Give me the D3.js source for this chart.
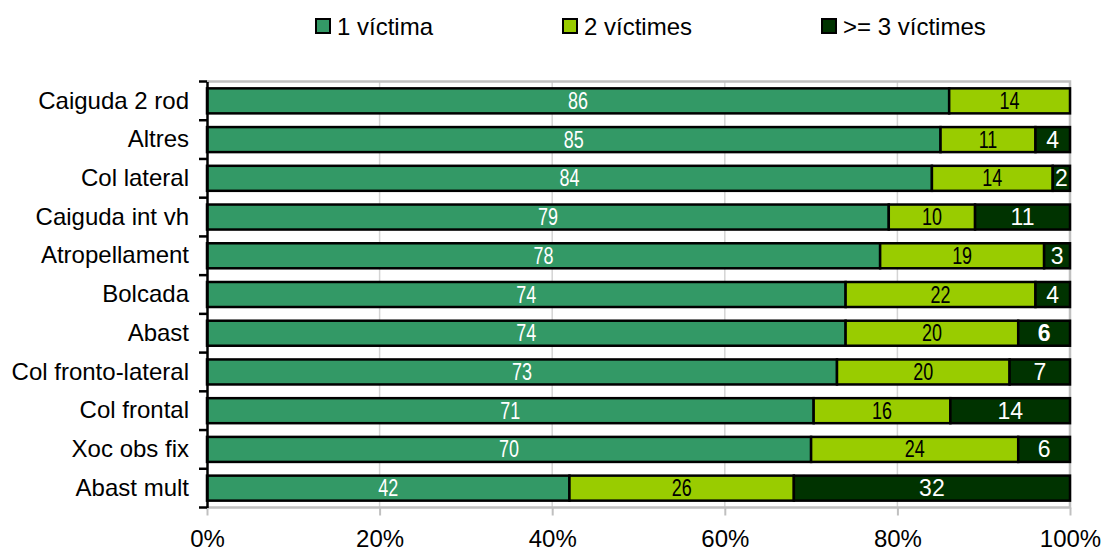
<!DOCTYPE html>
<html>
<head>
<meta charset="utf-8">
<script src="https://cdn.jsdelivr.net/npm/d3@7"></script>
<style>
  body { margin: 0; background: #fff; }
  text { font-family: "Liberation Sans", Arial, sans-serif; }
</style>
</head>
<body>
<div id="chart"></div>
<script>
var width = 1101;
var height = 551;

// data (percent of accidents by number of victims)
var categories = ['Caiguda 2 rod', 'Altres', 'Col lateral', 'Caiguda int vh', 'Atropellament',
                  'Bolcada', 'Abast', 'Col fronto-lateral', 'Col frontal', 'Xoc obs fix', 'Abast mult'];
var seriesNames = ['1 víctima', '2 víctimes', '>= 3 víctimes'];
var oneVictim   = [86, 85, 84, 79, 78, 74, 74, 73, 71, 70, 42];
var twoVictims  = [14, 11, 14, 10, 19, 22, 20, 20, 16, 24, 26];
var threeVictims = [0, 4, 2, 11, 3, 4, 6, 7, 14, 6, 32];
var xTicks = [0, 0.2, 0.4, 0.6, 0.8, 1];
var boldLabels = [['Abast', 2]];

var colors = ['#339966', '#99cc00', '#003300'];
var labelColors = ['#ffffff', '#000000', '#ffffff'];

var svg = d3.select('#chart').append('svg').attr('width', width).attr('height', height);

var x = d3.scaleLinear().domain([0, 1]).range([207, 1070]);
var y = d3.scaleBand().domain(categories).range([81.5, 507.5]).paddingInner(0.354).paddingOuter(0.177);

// build rows, normalised to 100% like a 100% stacked bar
var rows = categories.map(function(c, i) {
    var vals = [oneVictim[i], twoVictims[i], threeVictims[i]];
    var total = d3.sum(vals);
    var acc = 0;
    return vals.map(function(v, s) {
        var seg = { cat: c, s: s, v: v, x0: acc / total, x1: (acc + v) / total };
        acc += v;
        return seg;
    });
});

// gridlines
svg.append('g').selectAll('line').data(xTicks.slice(1, -1)).enter().append('line')
    .attr('x1', d => x(d)).attr('x2', d => x(d))
    .attr('y1', 81.5).attr('y2', 507.5)
    .attr('stroke', '#d4d4d4').attr('stroke-width', 1.5);

// plot border (gray)
svg.append('path')
    .attr('d', 'M' + x(0) + ',81.5H' + x(1) + 'V507.5H' + x(0))
    .attr('fill', 'none').attr('stroke', '#c0c0c0').attr('stroke-width', 2.5);

// x axis
var xAxis = svg.append('g').attr('transform', 'translate(0,507.5)')
    .call(d3.axisBottom(x).tickValues(xTicks).tickFormat(d3.format('.0%')).tickSize(8).tickPadding(14));
xAxis.select('.domain').remove();
xAxis.selectAll('line').attr('stroke', '#c0c0c0').attr('stroke-width', 2);
xAxis.selectAll('text').attr('font-size', '24px').attr('fill', '#000')
    .style('font-family', '"Liberation Sans", Arial, sans-serif');

// bars
var segs = svg.append('g').selectAll('g').data(rows).enter().append('g');
segs.selectAll('rect').data(d => d.filter(s => s.v > 0)).enter().append('rect')
    .attr('x', d => x(d.x0))
    .attr('y', d => y(d.cat))
    .attr('width', d => x(d.x1) - x(d.x0))
    .attr('height', y.bandwidth())
    .attr('fill', d => colors[d.s])
    .attr('stroke', '#000')
    .attr('stroke-width', 2.5);

// data labels
segs.selectAll('text').data(d => d.filter(s => s.v > 0)).enter().append('text')
    .attr('transform', function(d) {
        var cx = (x(d.x0) + x(d.x1)) / 2;
        var cy = y(d.cat) + y.bandwidth() / 2 + 8;
        return 'translate(' + cx + ',' + cy + ')' + (d.s < 2 ? ' scale(0.78,1)' : '');
    })
    .attr('text-anchor', 'middle')
    .attr('font-size', '23px')
    .attr('font-weight', d => boldLabels.some(b => b[0] === d.cat && b[1] === d.s) ? 'bold' : 'normal')
    .attr('fill', d => labelColors[d.s])
    .text(d => d.v);

// y axis
var yAxis = svg.append('g').attr('transform', 'translate(' + x(0) + ',0)')
    .call(d3.axisLeft(y).tickSize(0).tickPadding(18));
yAxis.select('.domain').attr('stroke', '#000').attr('stroke-width', 2.5);
yAxis.selectAll('text').attr('font-size', '24px').attr('fill', '#000')
    .style('font-family', '"Liberation Sans", Arial, sans-serif');

// y ticks sit between the categories
var bounds = d3.range(categories.length + 1).map(i => 81.5 + i * y.step());
svg.append('g').selectAll('line').data(bounds).enter().append('line')
    .attr('x1', x(0) - 8).attr('x2', x(0))
    .attr('y1', d => d).attr('y2', d => d)
    .attr('stroke', '#000').attr('stroke-width', 2.5);

// legend
var legendX = [316, 563, 822];
var legend = svg.append('g').selectAll('g').data(seriesNames).enter().append('g')
    .attr('transform', (d, i) => 'translate(' + legendX[i] + ',19)');
legend.append('rect')
    .attr('width', 14).attr('height', 14)
    .attr('fill', (d, i) => colors[i])
    .attr('stroke', '#000').attr('stroke-width', 2);
legend.append('text')
    .attr('x', 21).attr('y', 16)
    .attr('font-size', '24px')
    .text(d => d);
</script>
</body>
</html>
